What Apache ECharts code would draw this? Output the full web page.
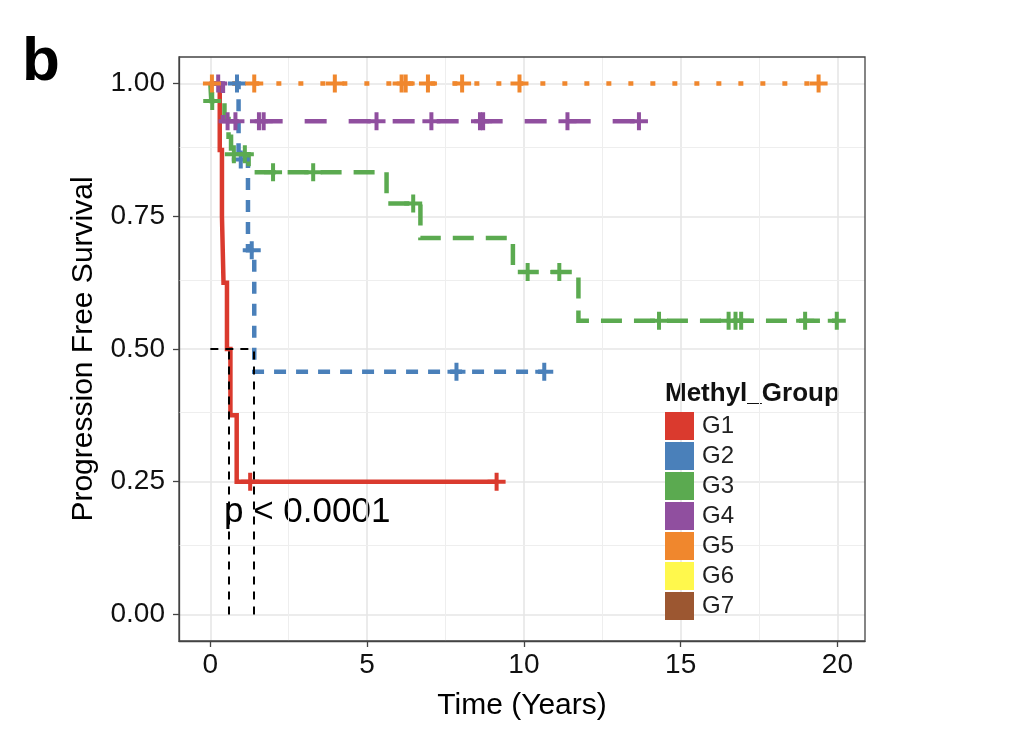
<!DOCTYPE html>
<html><head><meta charset="utf-8">
<script src="https://cdn.jsdelivr.net/npm/echarts@6/dist/echarts.min.js"></script>
<style>html,body{margin:0;padding:0;background:#fff}#c{width:1021px;height:736px}</style>
</head><body><div id="c"></div>
<script>
// ---------- data ----------
const groups = ['G1', 'G2', 'G3', 'G4', 'G5', 'G6', 'G7'];
const groupColors = ['#DA3A2E', '#4A80BA', '#5BAA50', '#904F9F', '#F0872D', '#FFF84C', '#9C5731'];

// event times (years) and survival right after each event
const g1EventTimes = [0.30, 0.37, 0.42, 0.53, 0.64, 0.84];
const g1Survival   = [0.875, 0.75, 0.625, 0.50, 0.375, 0.25];
const g1Censored   = [1.27, 9.13];

const g2EventTimes = [0.90, 1.20, 1.40];
const g2Survival   = [0.857, 0.686, 0.457];
const g2Censored   = [0.85, 0.97, 1.32, 7.85, 10.65];

const g3EventTimes = [0.03, 0.45, 0.58, 0.66, 1.22, 5.62, 6.70, 9.65, 11.74];
const g3Survival   = [0.967, 0.933, 0.900, 0.867, 0.833, 0.774, 0.709, 0.645, 0.553];
const g3Censored   = [0.06, 0.75, 1.10, 2.00, 3.28, 6.47, 10.12, 11.13, 14.31, 16.53, 16.75, 16.93, 18.97, 19.98];

const g4EventTimes = [0.40];
const g4Survival   = [0.929];
const g4Censored   = [0.25, 0.55, 0.80, 1.55, 1.70, 5.30, 7.05, 8.60, 8.70, 11.39, 13.67];

const g5EventTimes = [];
const g5Survival   = [];
const g5Censored   = [0.05, 1.40, 3.97, 6.10, 6.23, 6.94, 8.03, 9.86, 19.40];

const g6EventTimes = [], g6Survival = [], g6Censored = [];
const g7EventTimes = [], g7Survival = [], g7Censored = [];

const medianTimes = [0.60, 1.40];
const medianLevel = 0.5;

const xTicks = [0, 5, 10, 15, 20];
const xMinor = [2.5, 7.5, 12.5, 17.5];
const yTicks = [0, 0.25, 0.5, 0.75, 1];
const yMinor = [0.125, 0.375, 0.625, 0.875];

const pValueText = 'p < 0.0001';
const legendTitle = 'Methyl_Group';
const panelLetter = 'b';
const xTitle = 'Time (Years)';
const yTitle = 'Progression Free Survival';

// ---------- build ----------
const eventTimes = [g1EventTimes, g2EventTimes, g3EventTimes, g4EventTimes, g5EventTimes, g6EventTimes, g7EventTimes];
const survivals  = [g1Survival, g2Survival, g3Survival, g4Survival, g5Survival, g6Survival, g7Survival];
const censored   = [g1Censored, g2Censored, g3Censored, g4Censored, g5Censored, g6Censored, g7Censored];
const dashes = ['solid', [12, 10], [21, 12], [22, 22], [5, 17], 'solid', 'solid'];

function survAt(gi, t) {
  let s = 1;
  eventTimes[gi].forEach((et, k) => { if (et <= t) s = survivals[gi][k]; });
  return s;
}
function stepData(gi) {
  const ev = eventTimes[gi], sv = survivals[gi], cs = censored[gi];
  if (!ev.length && !cs.length) return [];
  const pts = [[0, 1]];
  ev.forEach((t, k) => pts.push([t, sv[k]]));
  const end = Math.max(...ev, ...cs);
  pts.push([end, sv.length ? sv[sv.length - 1] : 1]);
  return pts;
}

const plusPath = 'path://M7,0H11V7H18V11H11V18H7V11H0V7H7Z';
const font = "'Liberation Sans', Arial, Helvetica, sans-serif";

const series = [];
// minor grid lines
series.push({
  type: 'line', name: '_grid', data: [[0, 0]], showSymbol: false, silent: true,
  lineStyle: { opacity: 0 },
  markLine: {
    silent: true, symbol: 'none', z: 1, animation: false,
    label: { show: false },
    lineStyle: { color: '#eeeeee', width: 1, type: 'solid' },
    emphasis: { disabled: true },
    data: [...xMinor.map(v => ({ xAxis: v })), ...yMinor.map(v => ({ yAxis: v }))]
  }
});
groups.forEach((g, gi) => {
  series.push({
    type: 'line', name: g, step: 'end', data: stepData(gi), showSymbol: false,
    color: groupColors[gi], z: 3,
    lineStyle: { width: 4.5, color: groupColors[gi], type: dashes[gi], cap: 'butt', join: 'miter' },
    emphasis: { disabled: true }
  });
});
groups.forEach((g, gi) => {
  series.push({
    type: 'scatter', name: g, symbol: plusPath, symbolSize: 18, z: 4,
    data: censored[gi].map(t => [t, survAt(gi, t)]),
    itemStyle: { color: groupColors[gi], opacity: 1 },
    emphasis: { disabled: true }
  });
});
// median survival lines
const mMax = Math.max(...medianTimes);
series.push({
  type: 'line', name: '_median', data: [[0, 0]], showSymbol: false, silent: true,
  lineStyle: { opacity: 0 },
  markLine: {
    silent: true, symbol: 'none', z: 6, animation: false,
    label: { show: false },
    lineStyle: { color: '#000', width: 2, type: [8, 7] },
    emphasis: { disabled: true },
    data: [
      ...medianTimes.map(m => [{ coord: [m, 0] }, { coord: [m, medianLevel] }]),
      [{ coord: [0, medianLevel] }, { coord: [mMax, medianLevel] }]
    ]
  }
});

const chart = echarts.init(document.getElementById('c'), null, { renderer: 'canvas' });
chart.setOption({
  animation: false,
  backgroundColor: '#fff',
  grid: { left: 179, right: 156, top: 57, bottom: 95, show: true, borderColor: '#444', borderWidth: 1.3, backgroundColor: 'transparent', z: 7 },
  xAxis: {
    type: 'value', min: -1.0, max: 20.88,
    name: xTitle, nameLocation: 'middle', nameGap: 50,
    nameTextStyle: { fontSize: 30, color: '#000', fontFamily: font },
    axisLine: { show: true, onZero: false, lineStyle: { color: '#444', width: 1.3 } },
    axisTick: { show: true, inside: false, length: 6, customValues: xTicks, lineStyle: { color: '#444', width: 1.3 } },
    axisLabel: { customValues: xTicks, fontSize: 28, color: '#111', margin: 10, fontFamily: font },
    splitLine: { show: true, lineStyle: { color: '#e6e6e6', width: 1.6 } }
  },
  yAxis: {
    type: 'value', min: -0.05, max: 1.05,
    name: yTitle, nameLocation: 'middle', nameGap: 80, nameRotate: 90,
    nameTextStyle: { fontSize: 30, color: '#000', fontFamily: font },
    axisLine: { show: true, onZero: false, lineStyle: { color: '#444', width: 1.3 } },
    axisTick: { show: true, inside: false, length: 6, customValues: yTicks, lineStyle: { color: '#444', width: 1.3 } },
    axisLabel: { customValues: yTicks, fontSize: 28, color: '#111', margin: 14, fontFamily: font, formatter: v => v.toFixed(2) },
    splitLine: { show: true, lineStyle: { color: '#e6e6e6', width: 1.6 } }
  },
  legend: {
    data: groups, orient: 'vertical', left: 665, top: 412, padding: 0,
    icon: 'rect', itemWidth: 29, itemHeight: 28, itemGap: 2,
    textStyle: { fontSize: 24, color: '#222', fontFamily: font, padding: [0, 0, 0, 3] },
    selectedMode: false
  },
  graphic: [
    { type: 'text', left: 22, top: 32, style: { text: panelLetter, font: `bold 62px ${font}`, fill: '#000' } },
    { type: 'text', x: 224, y: 512, style: { text: pValueText, font: `35px ${font}`, fill: '#000', verticalAlign: 'middle' } },
    { type: 'text', x: 665, y: 394, style: { text: legendTitle, font: `bold 26px ${font}`, fill: '#111', verticalAlign: 'middle' } }
  ],
  series
});
</script>
</body></html>
